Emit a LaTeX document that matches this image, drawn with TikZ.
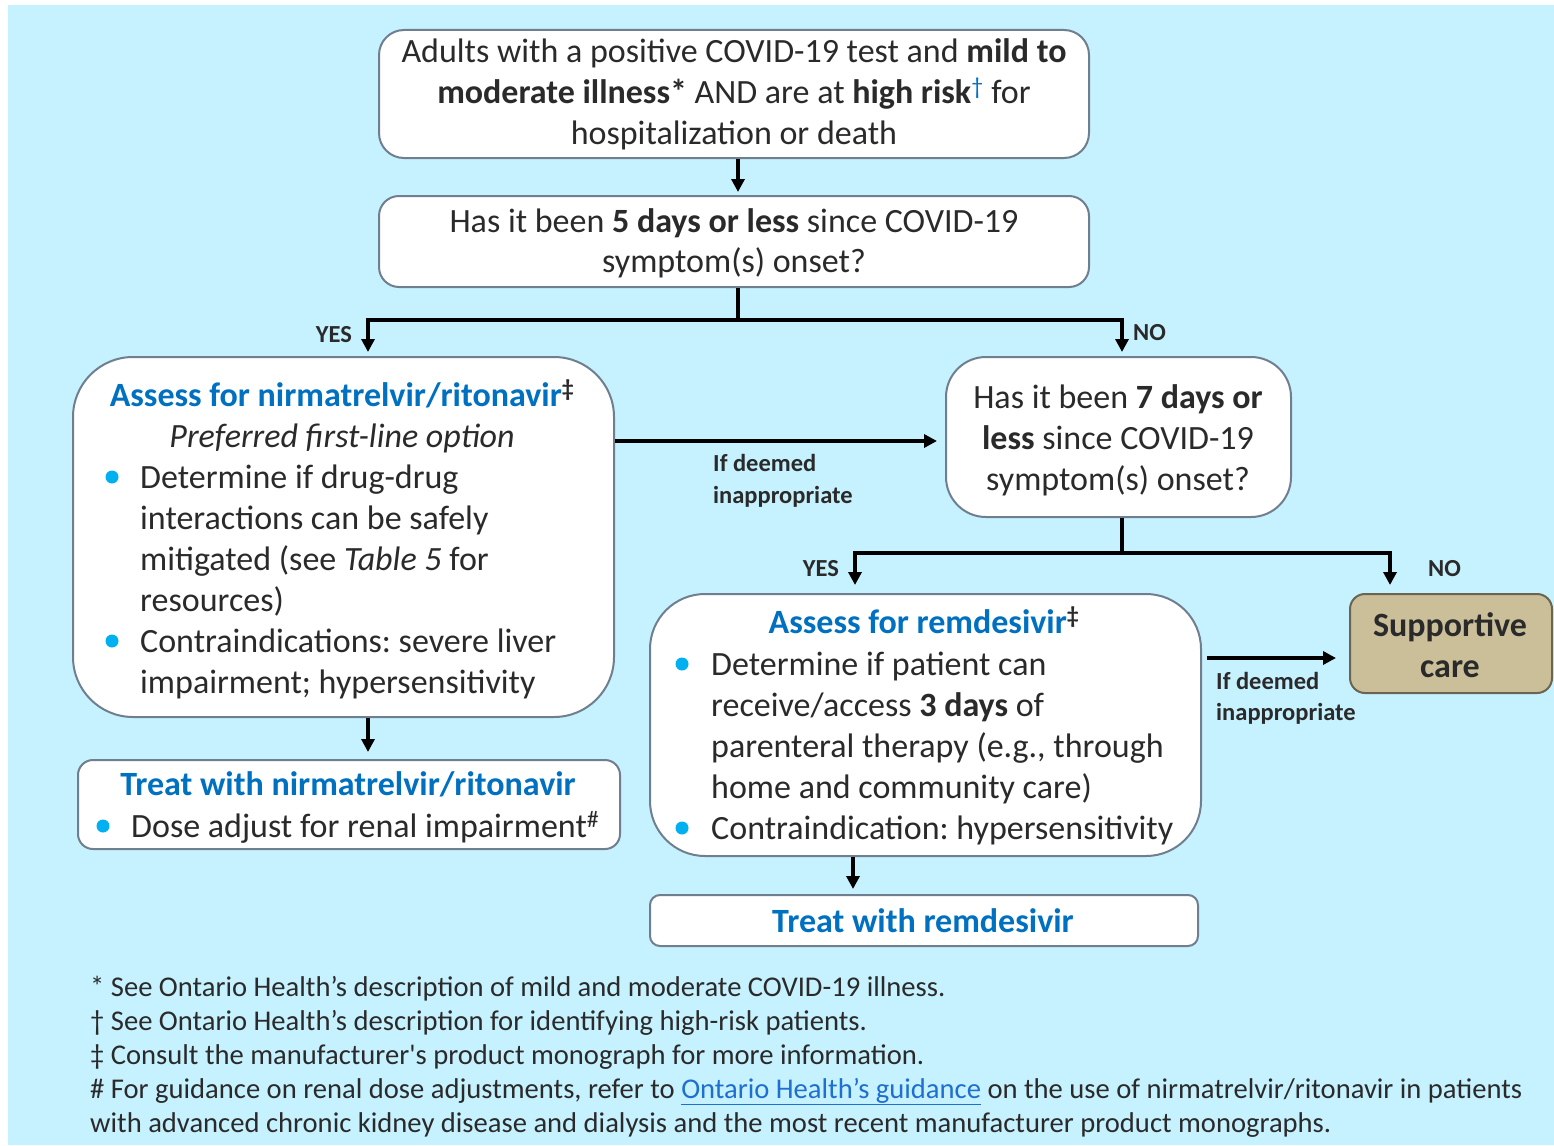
\documentclass[tikz,border=0pt]{standalone}
\usepackage{fontspec}
\setmainfont{Carlito}
\usetikzlibrary{arrows.meta}
\frenchspacing
\definecolor{bgc}{HTML}{C6F1FE}
\definecolor{brd}{HTML}{707F8F}
\definecolor{ttlc}{HTML}{0070C0}
\definecolor{bulc}{HTML}{00B0F0}
\definecolor{txc}{HTML}{2A2A2A}
\definecolor{tanc}{HTML}{CBBF9A}
\definecolor{tanb}{HTML}{6B6450}
\definecolor{linkc}{HTML}{1F6FD0}
\tikzset{
  box/.style={draw=brd, line width=2pt, fill=white, inner sep=0pt},
  conn/.style={line width=3.5pt, black},
  arr/.style={line width=3.5pt, black, -{Triangle[width=13pt,length=13pt]}},
  tc/.style={inner sep=0pt, anchor=base, text=txc, font=\fontsize{34}{41}\selectfont},
  tl/.style={tc, anchor=base west},
  ttl/.style={inner sep=0pt, anchor=base, text=ttlc, font=\fontsize{34}{41}\selectfont\bfseries},
  lbl/.style={inner sep=0pt, anchor=base west, text=txc, font=\fontsize{24.5}{28}\selectfont\bfseries},
  fn/.style={inner sep=0pt, anchor=base west, text=txc, font=\fontsize{28.6}{34}\selectfont},
  bul/.style={fill=bulc}
}
\begin{document}
\begin{tikzpicture}[x=1pt,y=-1pt]
\useasboundingbox (0,0) rectangle (1554,1145);
\fill[white] (0,0) rectangle (1554,1145);
\fill[bgc] (8,5) rectangle (1554,1145);

% boxes
\node[box, rounded corners=25pt, minimum width=710pt, minimum height=128pt] (b1) at (734,94) {};
\node[box, rounded corners=20pt, minimum width=710pt, minimum height=91pt] (b2) at (734,241.5) {};
\node[box, rounded corners=60pt, minimum width=541pt, minimum height=360pt] (b3) at (343.5,537) {};
\node[box, rounded corners=40pt, minimum width=345pt, minimum height=160pt] (b4) at (1118.5,437) {};
\node[box, rounded corners=55pt, minimum width=551pt, minimum height=262pt] (b5) at (925.5,725) {};
\node[box, rounded corners=15pt, minimum width=542pt, minimum height=89pt] (b6) at (349,804.5) {};
\node[box, rounded corners=10pt, minimum width=548pt, minimum height=51pt] (b7) at (924,920.5) {};
\node[box, draw=tanb, fill=tanc, rounded corners=15pt, minimum width=202pt, minimum height=99pt] (b8) at (1451,643.5) {};

% connectors
\draw[arr, shorten >=3pt] (b1.south -| 738,0) -- (b2.north -| 738,0);
\draw[conn] (b2.south -| 738,0) -- (738,320) coordinate (j1);
\draw[arr, shorten >=4pt] ([xshift=-1.75pt]j1 -| 1122,0) -- (j1 -| 368,0) -- (b3.north -| 368,0);
\draw[arr, shorten >=4pt] (j1) -- (j1 -| 1122,0) -- (b4.north -| 1122,0);
\draw[arr, shorten >=8pt] (b3.east |- 0,441) -- (b4.west |- 0,441);
\draw[conn] (b4.south -| 1122,0) -- (1122,553) coordinate (j2);
\draw[arr, shorten >=8pt] ([xshift=1.75pt]j2) -- (j2 -| 855,0) -- (b5.north -| 855,0);
\draw[arr, shorten >=8pt] ([xshift=-1.75pt]j2) -- (j2 -| 1390,0) -- (b8.north -| 1390,0);
\draw[arr, shorten <=5pt, shorten >=13pt] (b5.east |- 0,658) -- (b8.west |- 0,658);
\draw[arr, shorten >=7pt] (b3.south -| 368,0) -- (b6.north -| 368,0);
\draw[arr, shorten >=5pt] (b5.south -| 853,0) -- (b7.north -| 853,0);

% connector labels
\node[lbl, anchor=base east] (yes1) at (352,342) {YES};
\node[lbl] (no1) at (1133,340) {NO};
\node[lbl] (dl1) at (713,471) {If deemed};
\node[lbl] (dl2) at (713,503) {inappropriate};
\node[lbl, anchor=base east] (yes2) at (839,576) {YES};
\node[lbl] (no2) at (1428,576) {NO};
\node[lbl] (dr1) at (1216,689) {If deemed};
\node[lbl] (dr2) at (1216,720) {inappropriate};

% box 1
\node[tc] (t11) at (734,63) {Adults with a positive COVID-19 test and \textbf{mild to}};
\node[tc] (t12) at (734,104) {\textbf{moderate illness*} AND are at \textbf{high risk}\textsuperscript{\textcolor{ttlc}{†}} for};
\node[tc] (t13) at (734,144) {hospitalization or death};
% box 2
\node[tc] (t21) at (734,232) {Has it been \textbf{5 days or less} since COVID-19};
\node[tc] (t22) at (734,272) {symptom(s) onset?};
% box 3
\node[ttl] (t31) at (342,406) {Assess for nirmatrelvir/ritonavir\textsuperscript{\textcolor{txc}{‡}}};
\node[tc] (t32) at (342,447) {\itshape Preferred first-line option};
\fill[bul] (112,477) circle (6.5pt);
\node[tl] (t33) at (140,488) {Determine if drug-drug};
\node[tl] (t34) at (140,529) {interactions can be safely};
\node[tl] (t35) at (140,570) {mitigated (see \textit{Table 5} for};
\node[tl] (t36) at (140,611) {resources)};
\fill[bul] (112,641) circle (6.5pt);
\node[tl] (t37) at (140,652) {Contraindications: severe liver};
\node[tl] (t38) at (140,693) {impairment; hypersensitivity};
% box 4
\node[tc] (t41) at (1118,408) {Has it been \textbf{7 days or}};
\node[tc] (t42) at (1118,449) {\textbf{less} since COVID-19};
\node[tc] (t43) at (1118,490) {symptom(s) onset?};
% box 5
\node[ttl] (t51) at (924,633) {Assess for remdesivir\textsuperscript{\textcolor{txc}{‡}}};
\fill[bul] (682,664) circle (6.5pt);
\node[tl] (t52) at (711,675) {Determine if patient can};
\node[tl] (t53) at (711,716) {receive/access \textbf{3 days} of};
\node[tl] (t54) at (711,757) {parenteral therapy (e.g., through};
\node[tl] (t55) at (711,798) {home and community care)};
\fill[bul] (682,828) circle (6.5pt);
\node[tl] (t56) at (711,839) {Contraindication: hypersensitivity};
% box 6
\node[ttl] (t61) at (348,795) {Treat with nirmatrelvir/ritonavir};
\fill[bul] (103,826) circle (6.5pt);
\node[tl] (t62) at (131,837) {Dose adjust for renal impairment\textsuperscript{\#}};
% box 7
\node[ttl] (t71) at (923,932) {Treat with remdesivir};
% box 8
\node[tc, font=\fontsize{34}{41}\selectfont\bfseries] (t81) at (1450,636) {Supportive};
\node[tc, font=\fontsize{34}{41}\selectfont\bfseries] (t82) at (1450,677) {care};

% footnotes
\node[fn] (f1) at (90,996) {* See Ontario Health’s description of mild and moderate COVID-19 illness.};
\node[fn] (f2) at (90,1030) {† See Ontario Health’s description for identifying high-risk patients.};
\node[fn] (f3) at (90,1064) {‡ Consult the manufacturer\textquotesingle s product monograph for more information.};
\node[fn] (f4) at (90,1098) {\# For guidance on renal dose adjustments, refer to \textcolor{linkc}{\underline{Ontario Health’s guidance}} on the use of nirmatrelvir/ritonavir in patients};
\node[fn] (f5) at (90,1132) {with advanced chronic kidney disease and dialysis and the most recent manufacturer product monographs.};
\end{tikzpicture}
\end{document}
